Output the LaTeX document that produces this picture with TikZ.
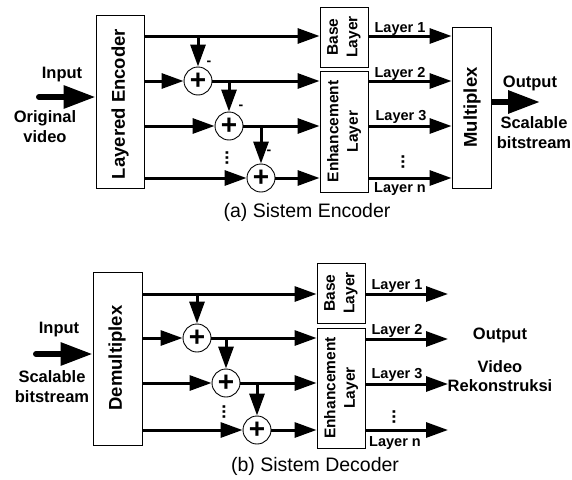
\documentclass[tikz,border=0pt]{standalone}
\usepackage{fontspec}
\setmainfont{Liberation Sans}
\usetikzlibrary{arrows.meta}
\tikzset{
  every node/.style={inner sep=0pt},
  box/.style={draw, line width=0.9pt},
  adder/.style={draw, circle, line width=0.9pt, minimum size=28, font=\bfseries\fontsize{28}{28}\selectfont},
  rowarrow/.style={line width=3pt, -{Triangle[length=22pt,width=15pt]}},
  thickarrow/.style={line width=6pt, -{Triangle[length=32pt,width=22pt]}},
  laylabel/.style={font=\bfseries\fontsize{14.5}{17}\selectfont},
  sidelabel/.style={font=\bfseries\fontsize{16.5}{20}\selectfont, align=center},
  boxtxt/.style={font=\bfseries\fontsize{15.5}{19.5}\selectfont, align=center, rotate=90},
  bigtxt/.style={font=\bfseries\fontsize{18.5}{22}\selectfont, rotate=90},
  captiontxt/.style={font=\fontsize{19.5}{23}\selectfont},
  vdots/.style={font=\bfseries\fontsize{18}{18}\selectfont, rotate=90},
  minus/.style={font=\bfseries\fontsize{14}{14}\selectfont},
}
\begin{document}
\begin{tikzpicture}[x=1pt,y=-1pt]
\useasboundingbox (0,0) rectangle (572,479);
% ---------------- Encoder ----------------
\coordinate (a1) at (0,36);
\coordinate (a2) at (0,81);
\coordinate (a3) at (0,126);
\coordinate (a4) at (0,178);
\node[box, minimum width=48, minimum height=173] (enc) at (120,101.5) {};
\node[bigtxt] (enctxt) at (120,104) {Layered Encoder};
\node[box, minimum width=48, minimum height=60] (base) at (344,37) {};
\node[boxtxt] (basetxt) at (344,37) {Base\\Layer};
\node[box, minimum width=48, minimum height=121] (enh) at (344,131.5) {};
\node[boxtxt] (enhtxt) at (344,131.5) {Enhancement\\Layer};
\node[box, minimum width=39, minimum height=161] (mux) at (471.5,107.5) {};
\node[bigtxt] (muxtxt) at (472,107.5) {Multiplex};
\node[adder] (s1) at (198,81) {+};
\node[adder] (s2) at (229,126) {+};
\node[adder] (s3) at (261,178) {+};

\draw[rowarrow] (enc.east |- a1) -- (base.west |- a1);
\draw[rowarrow] (enc.east |- a2) -- (s1.west);
\draw[rowarrow] (s1.east) -- (enh.west |- a2);
\draw[rowarrow] (enc.east |- a3) -- (s2.west);
\draw[rowarrow] (s2.east) -- (enh.west |- a3);
\draw[rowarrow] (enc.east |- a4) -- (s3.west);
\draw[rowarrow] (s3.east) -- (enh.west |- a4);
\draw[rowarrow] (s1 |- a1) -- (s1.north);
\draw[rowarrow] (s2 |- a2) -- (s2.north);
\draw[rowarrow] (s3 |- a3) -- (s3.north);
\node[minus] (m1) at (209,63) {-};
\node[minus] (m2) at (241,107) {-};
\node[minus] (m3) at (269,152) {-};
\node[vdots] (d1) at (227,158) {...};

\draw[rowarrow] (base.east |- a1) -- (mux.west |- a1);
\draw[rowarrow] (enh.east |- a2) -- (mux.west |- a2);
\draw[rowarrow] (enh.east |- a3) -- (mux.west |- a3);
\draw[rowarrow] (enh.east |- a4) -- (mux.west |- a4);
\node[laylabel] (l1) at (400,29) {Layer 1};
\node[laylabel] (l2) at (400,74) {Layer 2};
\node[laylabel] (l3) at (401,117) {Layer 3};
\node[laylabel] (ln) at (400,189) {Layer n};
\node[vdots] (d2) at (403,162) {...};

\coordinate (inA) at (39,97);
\draw[thickarrow, line cap=round] (inA) -- (enc.west |- inA);
\node[sidelabel] (inAtxt) at (62,75) {Input};
\node[sidelabel] (orig) at (45,127) {Original\\video};
\coordinate (outA) at (540,102);
\draw[thickarrow] (mux.east |- outA) -- (outA);
\node[sidelabel] (outAtxt) at (530,83) {Output};
\node[sidelabel] (sbA) at (534,133) {Scalable\\bitstream};
\node[captiontxt] (capA) at (307,212) {(a) Sistem Encoder};

% ---------------- Decoder ----------------
\coordinate (b1) at (0,294);
\coordinate (b2) at (0,338);
\coordinate (b3) at (0,383);
\coordinate (b4) at (0,430);
\node[box, minimum width=49, minimum height=173] (dmx) at (117.5,358.5) {};
\node[bigtxt] (dmxtxt) at (117,358) {Demultiplex};
\node[box, minimum width=48, minimum height=60] (base2) at (341,293) {};
\node[boxtxt] (base2txt) at (341,293) {Base\\Layer};
\node[box, minimum width=48, minimum height=120] (enh2) at (341,388) {};
\node[boxtxt] (enh2txt) at (341,388) {Enhancement\\Layer};
\node[adder] (s4) at (197,338) {+};
\node[adder] (s5) at (226,383) {+};
\node[adder] (s6) at (257,430) {+};

\draw[rowarrow] (dmx.east |- b1) -- (base2.west |- b1);
\draw[rowarrow] (dmx.east |- b2) -- (s4.west);
\draw[rowarrow] (s4.east) -- (enh2.west |- b2);
\draw[rowarrow] (dmx.east |- b3) -- (s5.west);
\draw[rowarrow] (s5.east) -- (enh2.west |- b3);
\draw[rowarrow] (dmx.east |- b4) -- (s6.west);
\draw[rowarrow] (s6.east) -- (enh2.west |- b4);
\draw[rowarrow] (s4 |- b1) -- (s4.north);
\draw[rowarrow] (s5 |- b2) -- (s5.north);
\draw[rowarrow] (s6 |- b3) -- (s6.north);
\node[vdots] (d3) at (224,412) {...};

\coordinate (o1) at (448,294);
\coordinate (o2) at (448,339);
\coordinate (o3) at (448,384);
\coordinate (o4) at (448,430);
\draw[rowarrow] (base2.east |- o1) -- (o1);
\draw[rowarrow] (enh2.east |- o2) -- (o2);
\draw[rowarrow] (enh2.east |- o3) -- (o3);
\draw[rowarrow] (enh2.east |- o4) -- (o4);
\node[laylabel] (k1) at (397,286) {Layer 1};
\node[laylabel] (k2) at (397,331) {Layer 2};
\node[laylabel] (k3) at (397,375) {Layer 3};
\node[laylabel] (kn) at (395,443) {Layer n};
\node[vdots] (d4) at (394,417) {...};

\coordinate (inB) at (36,354);
\draw[thickarrow, line cap=round] (inB) -- (dmx.west |- inB);
\node[sidelabel] (inBtxt) at (59,330) {Input};
\node[sidelabel] (sbB) at (52,387) {Scalable\\bitstream};
\node[sidelabel] (outBtxt) at (500,335) {Output};
\node[sidelabel, font=\bfseries\fontsize{16.5}{18.5}\selectfont] (vr) at (500,376) {Video\\Rekonstruksi};
\node[captiontxt] (capB) at (315,466) {(b) Sistem Decoder};
\end{tikzpicture}
\end{document}
